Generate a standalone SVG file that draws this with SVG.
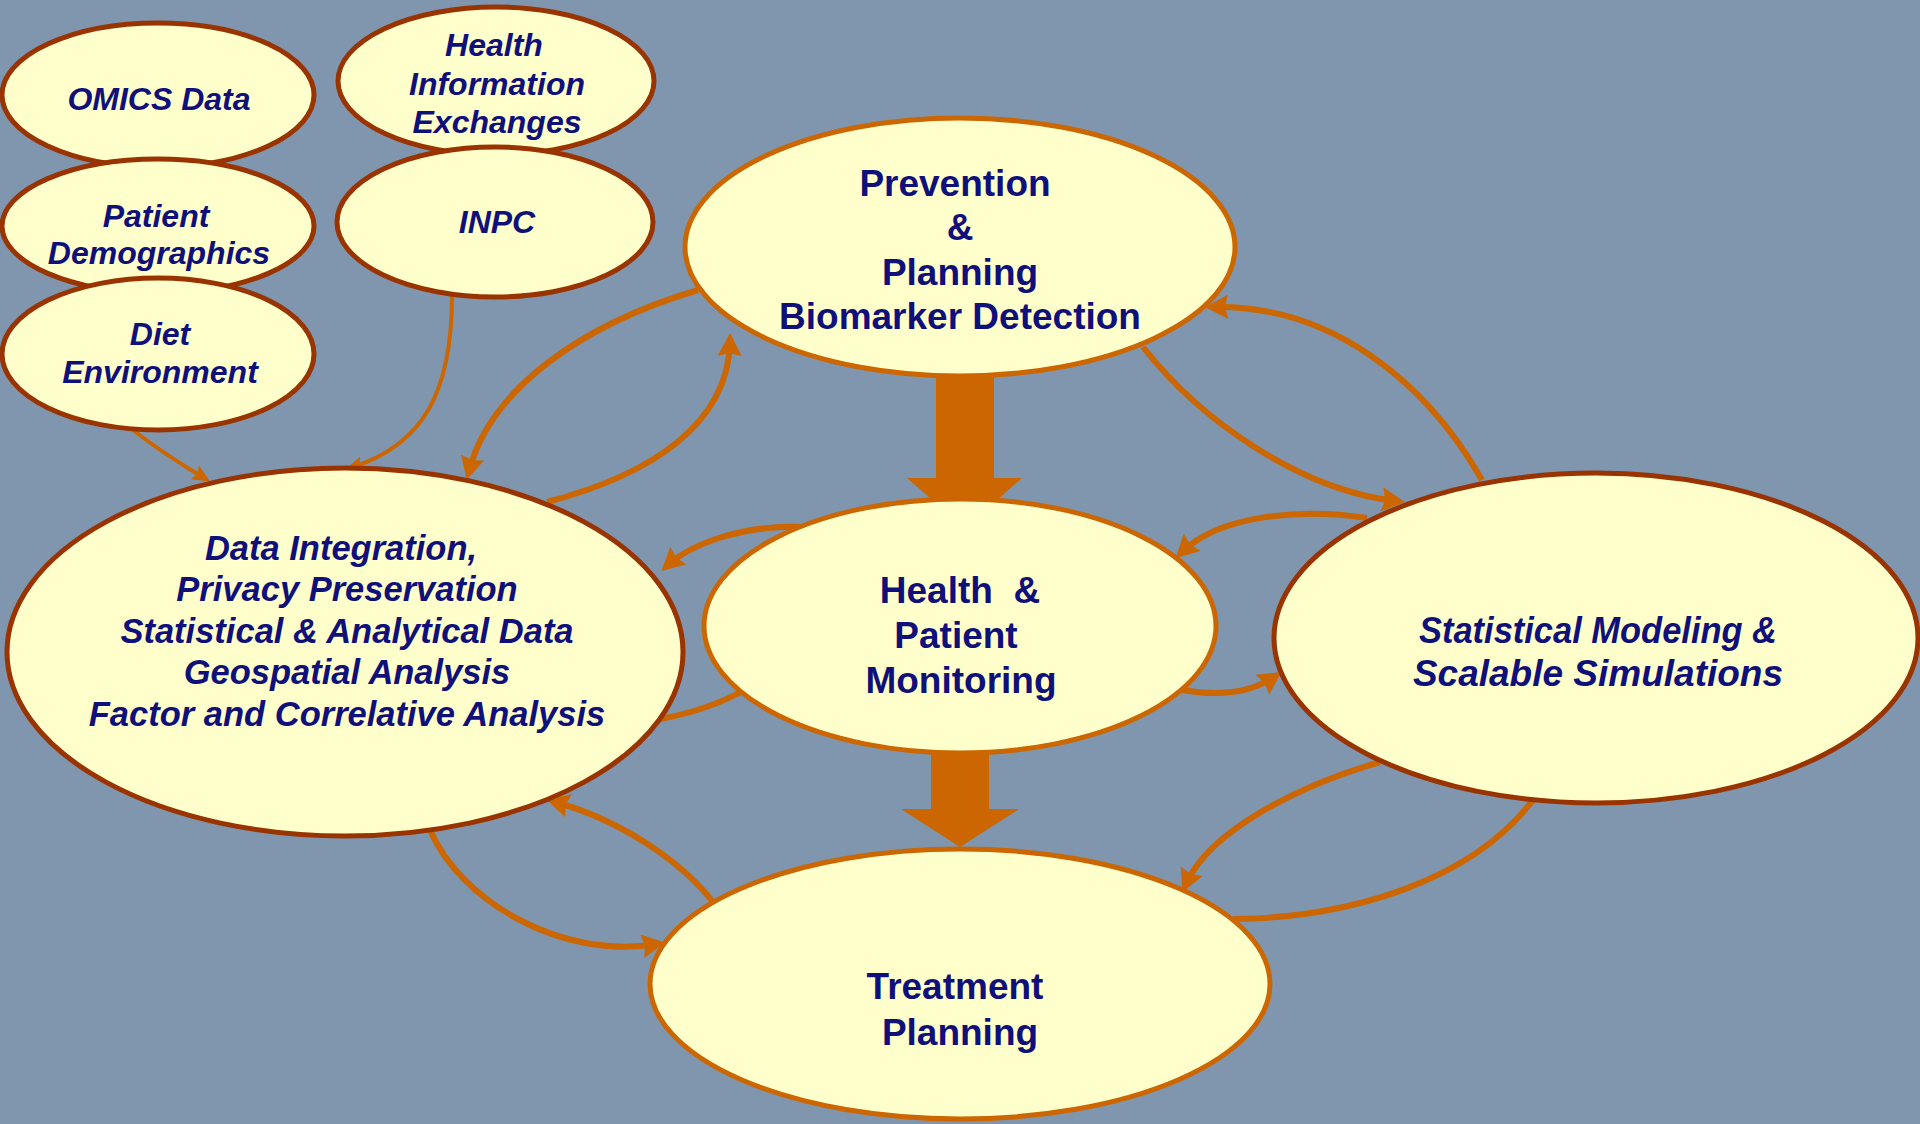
<svg xmlns="http://www.w3.org/2000/svg" width="1920" height="1124" viewBox="0 0 1920 1124">
<defs>
<style>
.bg{fill:#7F96AE}
.nd{fill:#FFFFCC;stroke:#993300;stroke-width:5}
.no{fill:#FFFFCC;stroke:#CC6600;stroke-width:5}
.c{fill:none;stroke:#CC6600;stroke-width:6;marker-end:url(#ah)}
.ct{fill:none;stroke:#CC6600;stroke-width:4;marker-end:url(#aht)}
.cn{fill:none;stroke:#CC6600;stroke-width:6}
.blk{fill:#CC6600}
text{font-family:"Liberation Sans",Arial,sans-serif;font-weight:bold;fill:#10107A;text-anchor:middle}
.s{font-size:32px;font-style:italic}
.m{font-size:37px}
.di{font-size:34.5px;font-style:italic}
.st{font-size:37px;font-style:italic}
</style>
<marker id="ah" markerUnits="userSpaceOnUse" markerWidth="24" markerHeight="24" viewBox="0 0 24 24" refX="14" refY="12" orient="auto"><path d="M0,0 L23,12 L0,24 L3,12 z" fill="#CC6600"/></marker>
<marker id="aht" markerUnits="userSpaceOnUse" markerWidth="18" markerHeight="16" viewBox="0 0 18 16" refX="13" refY="8" orient="auto"><path d="M0,0 L18,8 L0,16 L3,8 z" fill="#CC6600"/></marker>
</defs>
<rect class="bg" x="0" y="0" width="1920" height="1124"/>
<g id="connectors">
<polygon class="blk" points="936,370 994,370 994,478 1022,478 965,528 907,478 936,478"/>
<polygon class="blk" points="931,750 989,750 989,809 1019,809 960,847 901,809 931,809"/>
<path class="ct" d="M133,430 Q165,455 206,479"/>
<path class="ct" d="M452,295 C452,390 425,445 350,468"/>
<path class="c" d="M698,290 C580,325 490,390 469,471"/>
<path class="c" d="M547,502 C650,475 728,425 730,342"/>
<path class="c" d="M1482,480 C1425,380 1330,305 1214,307"/>
<path class="c" d="M1143,347 C1200,420 1300,490 1396,501"/>
<path class="c" d="M1367,518 C1300,508 1220,515 1182,552"/>
<path class="c" d="M1182,690 Q1240,700 1274,677"/>
<path class="c" d="M1380,762 C1300,785 1210,830 1186,884"/>
<path class="cn" d="M1233,919 C1350,918 1480,880 1540,790"/>
<path class="c" d="M800,527 C740,525 690,545 668,565"/>
<path class="cn" d="M660,719 Q710,710 748,688"/>
<path class="c" d="M713,902 C680,860 620,820 555,802"/>
<path class="c" d="M430,830 C460,900 560,960 656,944"/>
</g>
<g id="omics"><ellipse class="nd" cx="158" cy="95" rx="156" ry="72"/><text class="s" x="159" y="110">OMICS Data</text></g>
<g id="patient"><ellipse class="nd" cx="158" cy="226" rx="156" ry="67"/><text class="s" x="156" y="227">Patient</text><text class="s" x="159" y="264">Demographics</text></g>
<g id="diet"><ellipse class="nd" cx="158" cy="354" rx="156" ry="76"/><text class="s" x="160" y="345">Diet</text><text class="s" x="160" y="383">Environment</text></g>
<g id="hie"><ellipse class="nd" cx="496" cy="81" rx="158" ry="74"/><text class="s" x="494" y="56">Health</text><text class="s" x="497" y="95">Information</text><text class="s" x="497" y="133">Exchanges</text></g>
<g id="inpc"><ellipse class="nd" cx="495" cy="222" rx="158" ry="75"/><text class="s" x="497" y="233">INPC</text></g>
<g id="prevention"><ellipse class="no" cx="960" cy="247" rx="275" ry="129"/><text class="m" x="955" y="196">Prevention</text><text class="m" x="960" y="240">&amp;</text><text class="m" x="960" y="285">Planning</text><text class="m" x="960" y="329">Biomarker Detection</text></g>
<g id="data-integration"><ellipse class="nd" cx="345" cy="652" rx="338" ry="184"/><text class="di" x="341" y="560">Data Integration,</text><text class="di" x="347" y="601">Privacy Preservation</text><text class="di" x="347" y="643">Statistical &amp; Analytical Data</text><text class="di" x="347" y="684">Geospatial Analysis</text><text class="di" x="347" y="726">Factor and Correlative Analysis</text></g>
<g id="health"><ellipse class="no" cx="960" cy="626" rx="256" ry="127"/><text class="m" x="960" y="603" xml:space="preserve">Health  &amp;</text><text class="m" x="956" y="648">Patient</text><text class="m" x="961" y="693">Monitoring</text></g>
<g id="statistical"><ellipse class="nd" cx="1596" cy="638" rx="322" ry="165"/><text class="st" x="1598" y="643" textLength="358" lengthAdjust="spacingAndGlyphs">Statistical Modeling &amp;</text><text class="st" x="1598" y="686">Scalable Simulations</text></g>
<g id="treatment"><ellipse class="no" cx="960" cy="984" rx="310" ry="135"/><text class="m" x="955" y="999">Treatment</text><text class="m" x="960" y="1045">Planning</text></g>
</svg>
